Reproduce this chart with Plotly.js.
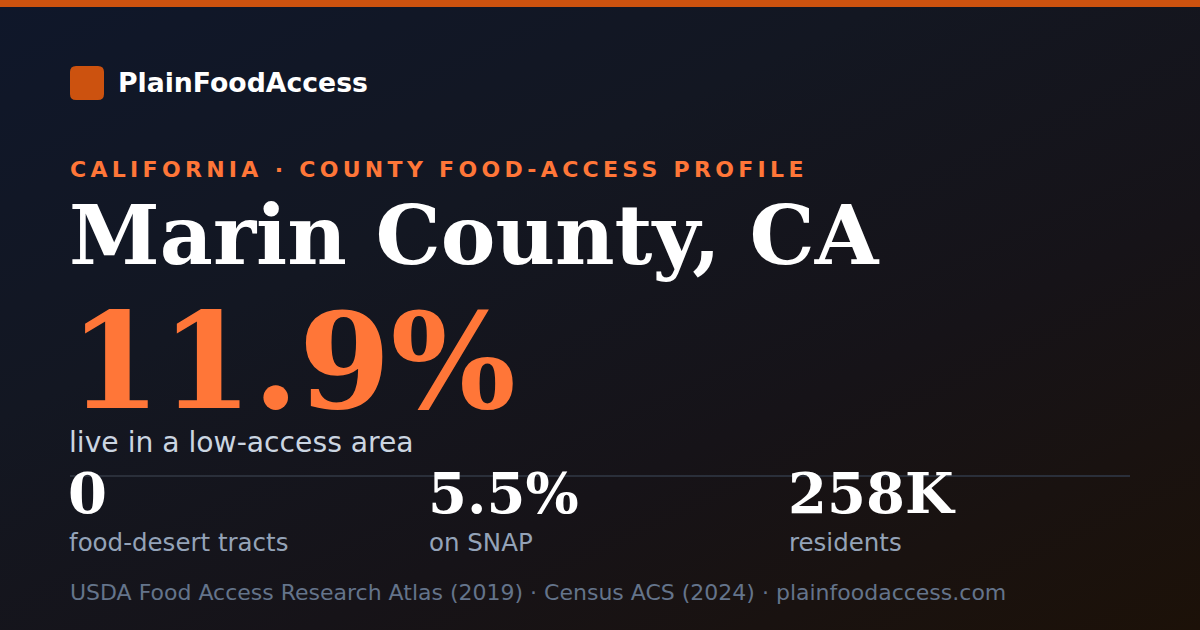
<!DOCTYPE html>
<html>
<head>
<meta charset="utf-8">
<script src="https://cdn.plot.ly/plotly-3.0.1.min.js"></script>
<style>
  html, body { margin: 0; padding: 0; background: #111; }
  #card {
    width: 1200px; height: 630px;
    background: linear-gradient(155deg, #0f172a 0%, #131722 35%, #161318 65%, #1c1108 100%);
  }
  #card g.annotation[data-index="1"] text { letter-spacing: 4.3px; }
</style>
</head>
<body>
<div id="card"></div>
<script>
// ---- data ----
const brand = "PlainFoodAccess";
const kicker = "CALIFORNIA · COUNTY FOOD-ACCESS PROFILE";
const countyName = "Marin County, CA";
const headlineValue = "11.9%";
const headlineLabel = "live in a low-access area";
const statValues = ["0", "5.5%", "258K"];
const statLabels = ["food-desert tracts", "on SNAP", "residents"];
const sources = ["USDA Food Access Research Atlas (2019)", "Census ACS (2024)", "plainfoodaccess.com"];

// ---- style ----
const W = 1200, H = 630, LEFT = 70, COLW = 360;
const ORANGE = "#ff7638", ORANGE_DARK = "#cc520f";
const SANS = "DejaVu Sans, sans-serif";
const SERIF = "DejaVu Serif, serif";

function ann(text, x, baseline, size, color, family, weight) {
  return {
    text: text, x: x, y: baseline - 0.35 * size, xref: "x", yref: "y",
    xanchor: "left", yanchor: "middle", align: "left", showarrow: false,
    font: { size: size, color: color, family: family, weight: weight || 400 },
    borderpad: 0
  };
}

const annotations = [];
annotations.push(ann(brand, 117, 92, 26.7, "#ffffff", SANS, 700));      // index 0
annotations.push(ann(kicker, LEFT - 1, 177, 22, ORANGE, SANS, 700));    // index 1 (letter-spaced)
annotations.push(ann(countyName, LEFT - 2, 264, 82, "#ffffff", SERIF, 700));
annotations.push(ann(headlineValue, LEFT - 2, 408, 132, ORANGE, SERIF, 700));
annotations.push(ann(headlineLabel, LEFT - 2, 452, 28.2, "#cbd5e1", SANS, 400));
statValues.forEach((v, i) => {
  annotations.push(ann(v, LEFT - 3 + i * COLW, 513, 56, "#ffffff", SERIF, 700));
});
statLabels.forEach((l, i) => {
  annotations.push(ann(l, LEFT - 2 + i * COLW, 551, 24.5, "#94a3b8", SANS, 400));
});
annotations.push(ann(sources.join(" · "), LEFT - 1, 600, 22, "#64748b", SANS, 400));

const shapes = [
  { type: "rect", xref: "x", yref: "y", x0: 0, x1: W, y0: 0, y1: 7, fillcolor: ORANGE_DARK, line: { width: 0 } },
  { type: "path", xref: "x", yref: "y",
    path: "M 76 66 L 98 66 Q 104 66 104 72 L 104 94 Q 104 100 98 100 L 76 100 Q 70 100 70 94 L 70 72 Q 70 66 76 66 Z",
    fillcolor: ORANGE_DARK, line: { width: 0 } },
  { type: "line", xref: "x", yref: "y", x0: LEFT, x1: 1130, y0: 476, y1: 476, line: { color: "#2a2f3a", width: 2 } }
];

const layout = {
  width: W, height: H,
  margin: { l: 0, r: 0, t: 0, b: 0 },
  paper_bgcolor: "rgba(0,0,0,0)", plot_bgcolor: "rgba(0,0,0,0)",
  xaxis: { range: [0, W], visible: false, fixedrange: true },
  yaxis: { range: [H, 0], visible: false, fixedrange: true },
  showlegend: false,
  annotations: annotations,
  shapes: shapes
};

Plotly.newPlot("card", [], layout, { displayModeBar: false, staticPlot: true });
</script>
</body>
</html>
